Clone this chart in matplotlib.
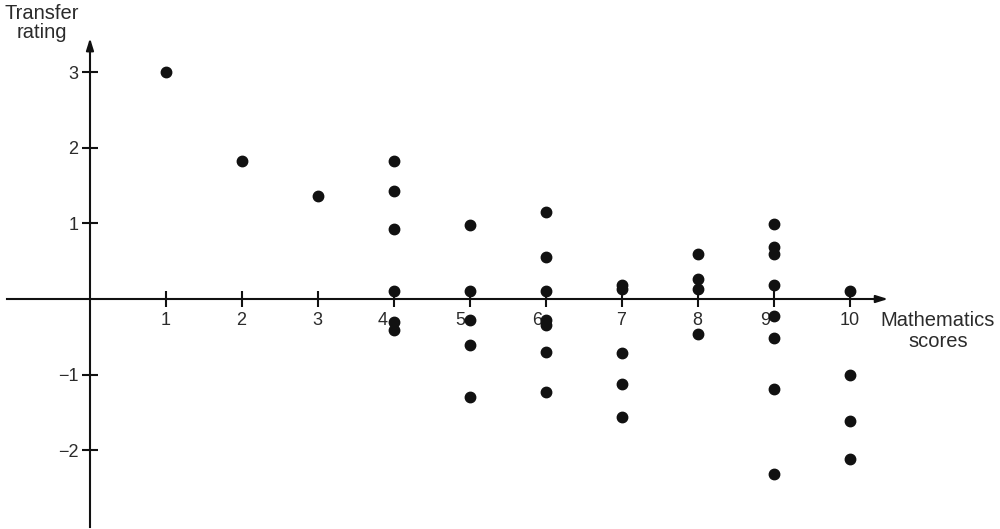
import matplotlib.pyplot as plt

plt.rcParams['font.family'] = ['Liberation Sans', 'DejaVu Sans']

# mathematics score (x) and transfer rating (y) for each point
scores = [1,
          2,
          3,
          4, 4, 4, 4, 4, 4,
          5, 5, 5, 5, 5,
          6, 6, 6, 6, 6, 6, 6,
          7, 7, 7, 7, 7,
          8, 8, 8, 8,
          9, 9, 9, 9, 9, 9, 9, 9,
          10, 10, 10, 10]
ratings = [3.0,
           1.83,
           1.36,
           1.83, 1.43, 0.92, 0.11, -0.30, -0.41,
           0.98, 0.11, -0.28, -0.61, -1.30,
           1.15, 0.55, 0.11, -0.28, -0.34, -0.70, -1.23,
           0.19, 0.13, -0.72, -1.12, -1.56,
           0.60, 0.26, 0.13, -0.46,
           0.99, 0.69, 0.60, 0.19, -0.22, -0.51, -1.19, -2.32,
           0.11, -1.00, -1.61, -2.12]

x_ticks = [1, 2, 3, 4, 5, 6, 7, 8, 9, 10]
y_ticks = [-2, -1, 1, 2, 3]
y_labels = ['\u22122', '\u22121', '1', '2', '3']

# labels pushed left where a dot sits on the tick (in points)
x_label_shift = {4: -8, 5: -7, 6: -6.5, 9: -6}

axis_col = '#111111'
text_col = '#2b2b2b'

fig = plt.figure(figsize=(10, 5.29), dpi=100)
ax = fig.add_axes([0, 0, 1, 1])
ax.set_xlim(-1.184, 11.974)
ax.set_ylim(-3.042, 3.955)

# axes through the origin
for side in ['top', 'right']:
    ax.spines[side].set_visible(False)
ax.spines['left'].set_position(('data', 0))
ax.spines['bottom'].set_position(('data', 0))
ax.spines['left'].set_bounds(-3.02, 3.40)
ax.spines['bottom'].set_bounds(-1.09, 10.45)
for side in ['left', 'bottom']:
    ax.spines[side].set_linewidth(1.5)
    ax.spines[side].set_color(axis_col)

arrow = dict(arrowstyle='-|>,head_length=0.7,head_width=0.22',
             color=axis_col, lw=1.5, shrinkA=0, shrinkB=0)
ax.annotate('', xy=(10.5, 0), xytext=(10.3, 0), arrowprops=arrow,
            annotation_clip=False)
ax.annotate('', xy=(0, 3.45), xytext=(0, 3.25), arrowprops=arrow,
            annotation_clip=False)

ax.set_xticks(x_ticks)
ax.set_xticklabels([])
ax.set_yticks(y_ticks)
ax.set_yticklabels(y_labels)
ax.tick_params(axis='both', direction='inout', length=11, width=1.5,
               color=axis_col)
ax.tick_params(axis='y', labelsize=13, labelcolor=text_col, pad=3)

for xt in x_ticks:
    ax.annotate(str(xt), xy=(xt, 0), xytext=(x_label_shift.get(xt, -0.5), -9),
                textcoords='offset points', ha='center', va='top',
                fontsize=13, color=text_col)

ax.plot(scores, ratings, 'o', color=axis_col, markersize=7.5, zorder=5,
        clip_on=False)

# axis titles placed in pixels (origin bottom-left)
ax.text(42, 529 - 23, 'Transfer\nrating', transform=None, ha='center',
        va='center', fontsize=14.5, color=text_col, linespacing=1.0)
ax.text(938, 529 - 331, 'Mathematics\nscores', transform=None, ha='center',
        va='center', fontsize=14.5, color=text_col, linespacing=1.15)

plt.savefig('out.png', dpi=100)
